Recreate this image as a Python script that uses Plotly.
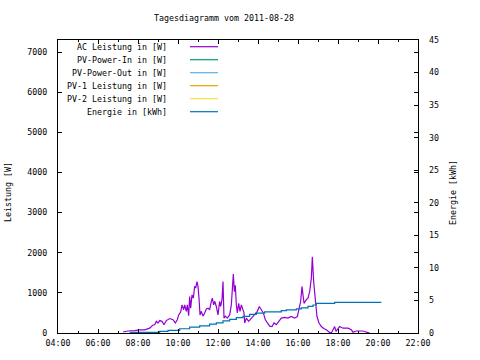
import plotly.graph_objects as go
from datetime import datetime

DAY = "2011-08-28"

# AC Leistung in [W]
ac_times = ["07:15","07:30","07:50","08:05","08:20","08:35","08:45","08:50","08:55","09:00",
            "09:05","09:12","09:18","09:25","09:35","09:45","09:52","09:58","10:02","10:08",
            "10:12","10:17","10:20","10:25","10:28","10:32","10:35","10:38","10:42","10:46",
            "10:50","10:53","10:57","11:00","11:03","11:06","11:10","11:15","11:20","11:25",
            "11:30","11:35","11:40","11:43","11:47","11:50","11:55","12:00","12:05","12:08",
            "12:12","12:15","12:18","12:22","12:28","12:35","12:40","12:43","12:46","12:49",
            "12:52","12:55","12:58","13:02","13:06","13:10","13:14","13:18","13:20","13:25",
            "13:32","13:40","13:50","13:58","14:04","14:10","14:16","14:22","14:28","14:35",
            "14:42","14:48","14:55","15:02","15:10","15:20","15:30","15:40","15:50","15:58",
            "16:03","16:08","16:12","16:15","16:18","16:25","16:30","16:35","16:40","16:43",
            "16:47","16:53","16:57","17:03","17:10","17:17","17:25","17:35","17:40","17:45",
            "17:50","17:54","18:05","18:15","18:30","18:40","18:45","18:55","19:15","19:25",
            "19:35"]
ac_values = [25,50,60,80,80,120,200,206,290,250,
             310,290,206,310,360,330,250,330,450,520,
             700,580,700,540,700,430,910,620,950,870,
             1160,1120,1280,1160,870,450,540,420,500,600,
             620,580,790,870,700,790,660,450,790,660,
             830,1280,370,420,370,450,700,1240,1470,1030,
             1190,700,500,740,540,700,580,500,250,370,
             290,370,450,540,660,580,500,330,250,170,
             160,250,210,290,370,390,370,410,370,410,
             620,790,1160,870,740,830,870,1030,1360,1900,
             1280,740,410,250,160,110,80,15,0,80,
             160,40,160,120,120,80,20,50,50,20,
             0]

# Energie in [kWh]
en_times = ["07:35","09:05","09:30","10:05","10:35","11:05","11:35","11:55","12:15","12:35",
            "12:55","13:15","13:35","13:55","14:20","15:10","15:25","15:55","16:10","16:30",
            "16:45","16:55","17:50","20:10"]
en_values = [0.1,0.25,0.4,0.65,0.9,1.1,1.35,1.55,1.85,2.1,
             2.35,2.55,2.85,3.05,3.25,3.45,3.55,3.7,3.85,4.1,
             4.3,4.55,4.7,4.7]

legend_names = ["AC Leistung in [W]", "PV-Power-In in [W]", "PV-Power-Out in [W]",
                "PV-1 Leistung in [W]", "PV-2 Leistung in [W]", "Energie in [kWh]"]
legend_colors = ["#9400D3", "#009E73", "#56B4E9", "#E69F00", "#F0E442", "#0072B2"]

def ts(t):
    return datetime.strptime(DAY + " " + t, "%Y-%m-%d %H:%M")

FONT = "DejaVu Sans Mono"

fig = go.Figure()
fig.add_trace(go.Scatter(x=[ts(t) for t in ac_times], y=ac_values, mode="lines",
                         name=legend_names[0], line=dict(color=legend_colors[0], width=1.2),
                         showlegend=False))
for name, col in zip(legend_names[1:5], legend_colors[1:5]):
    fig.add_trace(go.Scatter(x=[], y=[], mode="lines", name=name,
                             line=dict(color=col, width=1.2), showlegend=False))
fig.add_trace(go.Scatter(x=[ts(t) for t in en_times], y=en_values, mode="lines",
                         name=legend_names[5], yaxis="y2", line_shape="hv",
                         line=dict(color=legend_colors[5], width=1.2), showlegend=False))

W, H = 480, 360
L, R, T, B = 58, 62, 40, 27
pw, ph = W - L - R, H - T - B

def px_x(x):
    return (x - L) / pw

def px_y(y):
    return (H - B - y) / ph

# manual legend (text left of sample line, as in the reference)
for i, (name, col) in enumerate(zip(legend_names, legend_colors)):
    yy = px_y(46.7 + 13 * i)
    fig.add_annotation(x=px_x(169), y=yy, xref="paper", yref="paper", text=name,
                       showarrow=False, xanchor="right", yanchor="middle",
                       font=dict(family=FONT, size=8.3, color="black"))
    fig.add_shape(type="line", xref="paper", yref="paper", x0=px_x(190), x1=px_x(218),
                  y0=yy, y1=yy, line=dict(color=col, width=1.2))

fig.add_annotation(x=px_x(8), y=px_y(192), xref="paper", yref="paper", text="Leistung [W]",
                   textangle=-90, showarrow=False, xanchor="center", yanchor="middle",
                   font=dict(family=FONT, size=8.3, color="black"))
fig.add_annotation(x=px_x(453), y=px_y(193), xref="paper", yref="paper", text="Energie [kWh]",
                   textangle=-90, showarrow=False, xanchor="center", yanchor="middle",
                   font=dict(family=FONT, size=8.3, color="black"))

fig.update_layout(
    width=W, height=H,
    margin=dict(l=L, r=R, t=T, b=B, pad=0),
    paper_bgcolor="white", plot_bgcolor="white",
    font=dict(family=FONT, size=8.3, color="black"),
    title=dict(text="Tagesdiagramm vom 2011-08-28", x=224 / W, xref="container",
               xanchor="center", y=1 - 18 / H, yref="container", yanchor="middle",
               font=dict(family=FONT, size=8.3, color="black")),
    showlegend=False,
    hovermode=False,
    xaxis=dict(type="date", range=[ts("04:00"), ts("22:00")], dtick=7200000,
               tick0=ts("00:00"), tickformat="%H:%M", ticks="inside", ticklen=4,
               tickcolor="black", showline=True, linecolor="black", linewidth=1,
               mirror="ticks", showgrid=False, zeroline=False, ticklabelstandoff=2,
               minor=dict(dtick=3600000, ticks="inside", ticklen=2, tickcolor="black",
                          showgrid=False)),
    yaxis=dict(range=[0, 7300], dtick=1000, ticks="inside", ticklen=4, tickcolor="black",
               showline=True, linecolor="black", linewidth=1, mirror="ticks",
               showgrid=False, zeroline=False, ticklabelstandoff=8),
    yaxis2=dict(range=[0, 45], dtick=5, overlaying="y", side="right", ticks="inside",
                ticklen=4, tickcolor="black", showgrid=False, zeroline=False,
                showline=False, ticklabelstandoff=10),
)

fig.write_html("out.html", config={"displayModeBar": False},
               post_script="document.body.style.margin='0';")
